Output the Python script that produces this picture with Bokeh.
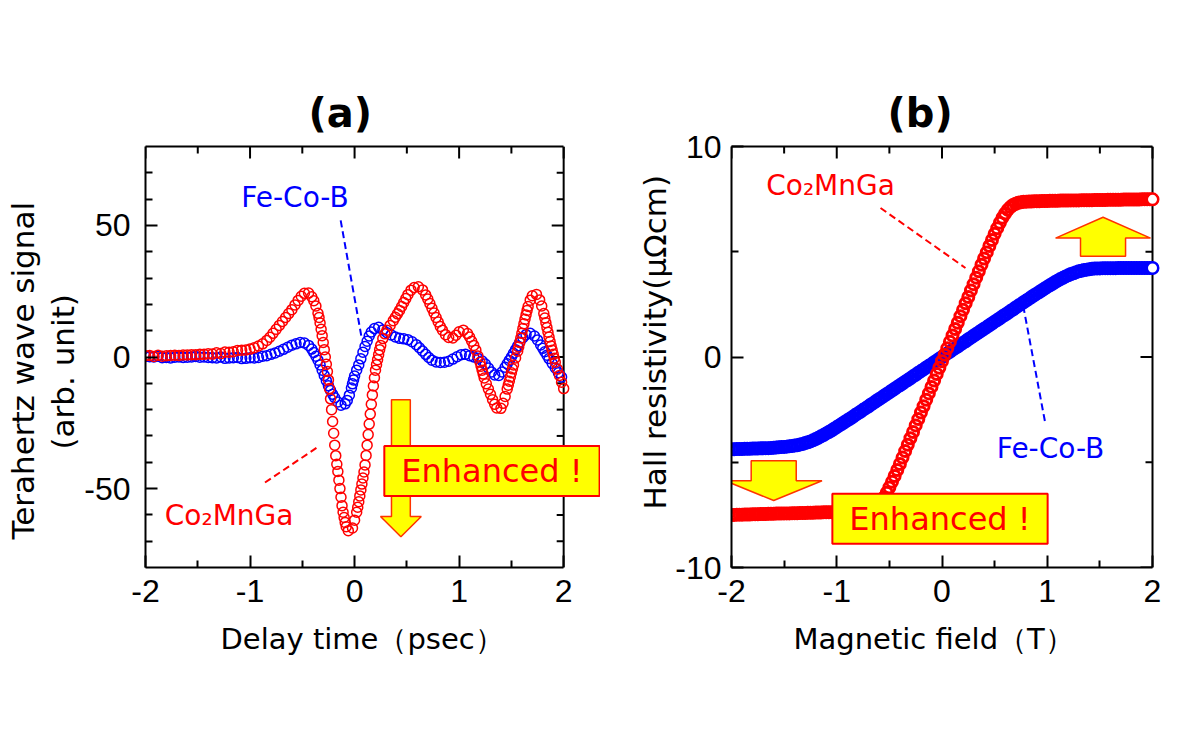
import math
import numpy as np

from bokeh.plotting import figure
from bokeh.layouts import row
from bokeh.models import Range1d, LinearAxis, FixedTicker, Label, Title
from bokeh.embed import file_html
from bokeh.resources import INLINE

# ---------------------------------------------------------------------------
# (a) Terahertz emission waveforms, sampled every 0.01 ps from -2 to 2 ps
# ---------------------------------------------------------------------------
delay_ps = np.round(np.linspace(-2.0, 2.0, 401), 3)

thz_co2mnga = [
    0.5, 0.4, 0.3, 0.5, 0.6, 0.5, 0.4, 0.3, 0.2, 0.4, 0.5, 0.6, 0.7, 0.5, 0.4, 0.3, 0.3, 0.5, 0.6, 0.5,
    0.5, 0.7, 0.8, 0.7, 0.6, 0.5, 0.4, 0.6, 0.7, 0.8, 0.9, 0.7, 0.6, 0.5, 0.5, 0.7, 0.8, 0.9, 1.0, 0.9,
    0.8, 0.7, 0.6, 0.8, 0.9, 1.0, 1.1, 1.0, 0.9, 0.8, 0.7, 0.9, 1.0, 1.1, 1.2, 1.1, 1.0, 0.9, 0.9, 1.0,
    1.2, 1.3, 1.4, 1.2, 1.1, 1.2, 1.3, 1.5, 1.6, 1.5, 1.4, 1.3, 1.3, 1.5, 1.7, 1.8, 1.9, 1.8, 1.6, 1.7,
    1.8, 2.0, 2.1, 2.0, 2.0, 2.2, 2.3, 2.4, 2.5, 2.3, 2.2, 2.4, 2.6, 2.8, 2.9, 2.8, 2.7, 2.8, 3.0, 3.0,
    3.0, 3.1, 3.2, 3.3, 3.5, 3.6, 3.8, 4.0, 4.2, 4.4, 4.6, 4.8, 5.0, 5.3, 5.6, 5.9, 6.3, 6.7, 7.1, 7.5,
    8.0, 8.5, 9.0, 9.5, 10.0, 10.5, 11.0, 11.5, 12.0, 12.5, 13.0, 13.5, 14.0, 14.5, 15.0, 15.5, 16.0, 16.5, 17.0, 17.5,
    18.0, 18.6, 19.2, 19.8, 20.4, 21.0, 21.5, 22.1, 22.6, 23.1, 23.5, 23.9, 24.2, 24.5, 24.6, 24.5, 24.3, 24.0, 23.5, 22.9,
    22.2, 21.4, 20.5, 19.4, 18.0, 16.6, 15.0, 12.9, 10.5, 8.1, 5.5, 2.8, 0.0, -2.8, -5.5, -8.7, -12.0, -15.9, -20.0, -24.5,
    -29.0, -33.5, -37.5, -40.8, -43.5, -46.8, -50.0, -53.3, -56.5, -59.0, -61.0, -62.9, -64.5, -65.4, -66.0, -66.4, -66.5, -66.0, -65.0, -63.6,
    -62.0, -60.6, -59.0, -57.1, -55.0, -52.8, -50.5, -48.3, -46.0, -43.7, -41.0, -37.4, -33.5, -29.5, -25.5, -21.7, -18.0, -14.4, -11.0, -7.9,
    -5.0, -2.9, -1.0, 0.9, 2.8, 4.4, 5.8, 7.0, 8.0, 8.8, 9.6, 10.2, 10.8, 11.4, 12.0, 12.6, 13.2, 13.8, 14.5, 15.1,
    15.8, 16.4, 17.0, 17.7, 18.5, 19.2, 20.0, 20.7, 21.5, 22.2, 23.0, 23.7, 24.3, 24.9, 25.4, 25.8, 26.1, 26.4, 26.6, 26.7,
    26.8, 26.7, 26.5, 26.2, 25.9, 25.5, 25.0, 24.3, 23.6, 22.8, 22.0, 21.2, 20.3, 19.4, 18.5, 17.6, 16.7, 15.8, 15.0, 14.1,
    13.3, 12.4, 11.6, 10.9, 10.2, 9.6, 9.0, 8.5, 8.1, 7.7, 7.4, 7.2, 7.0, 7.1, 7.2, 7.5, 7.9, 8.3, 8.8, 9.2,
    9.6, 9.9, 10.1, 10.2, 10.2, 10.0, 9.8, 9.4, 8.9, 8.3, 7.6, 6.8, 6.0, 5.2, 4.4, 3.5, 2.6, 1.5, 0.4, -0.8,
    -2.0, -3.5, -5.0, -6.5, -8.0, -9.1, -10.2, -11.2, -12.2, -13.2, -14.2, -15.2, -16.2, -17.1, -18.0, -18.8, -19.4, -19.9, -20.2, -20.0,
    -19.5, -18.6, -17.6, -16.4, -15.0, -13.6, -12.2, -10.7, -9.2, -7.6, -6.0, -4.5, -3.0, -1.7, -0.4, 0.9, 2.2, 3.8, 5.5, 7.2,
    9.0, 10.8, 12.6, 14.3, 16.0, 17.7, 19.2, 20.5, 21.6, 22.5, 23.3, 23.8, 24.1, 24.1, 23.8, 23.3, 22.6, 21.7, 20.6, 19.4,
    18.0, 16.5, 14.8, 13.0, 11.2, 9.4, 7.6, 5.9, 4.2, 2.6, 1.0, -0.5, -2.0, -3.3, -4.6, -5.8, -7.0, -8.3, -9.6, -10.8,
    -12.0,
]

thz_fecob = [
    0.2, 0.0, -0.3, -0.1, 0.1, -0.2, -0.4, -0.2, 0.0, 0.1, -0.2, -0.3, 0.3, 0.1, -0.1, -0.3, -0.3, -0.1, 0.1, 0.0,
    -0.2, -0.1, 0.0, -0.2, -0.4, -0.1, 0.2, 0.0, -0.1, -0.2, -0.3, -0.1, 0.0, 0.1, 0.2, 0.0, -0.2, -0.1, 0.1, 0.0,
    -0.1, 0.1, 0.3, 0.1, 0.0, -0.1, -0.2, 0.0, 0.2, 0.1, 0.1, 0.0, -0.1, 0.1, 0.3, 0.1, 0.0, 0.1, 0.2, 0.0,
    -0.2, -0.1, 0.1, -0.1, -0.3, -0.2, -0.1, -0.3, -0.4, -0.3, -0.2, -0.1, 0.0, -0.2, -0.3, -0.4, -0.5, -0.3, -0.2, -0.3,
    -0.4, -0.5, -0.6, -0.4, -0.3, -0.4, -0.5, -0.3, -0.2, -0.3, -0.4, -0.5, -0.6, -0.4, -0.3, -0.4, -0.5, -0.3, -0.2, -0.2,
    -0.3, -0.2, -0.1, -0.3, -0.4, -0.2, 0.0, -0.1, -0.2, 0.0, 0.1, 0.2, 0.3, 0.2, 0.2, 0.3, 0.5, 0.6, 0.7, 0.8,
    1.0, 1.2, 1.3, 1.4, 1.5, 1.7, 1.9, 2.0, 2.2, 2.3, 2.5, 2.7, 2.9, 3.1, 3.3, 3.5, 3.7, 3.9, 4.1, 4.3,
    4.5, 4.7, 4.8, 4.9, 5.0, 5.2, 5.3, 5.4, 5.5, 5.5, 5.5, 5.4, 5.3, 5.2, 5.0, 4.7, 4.4, 4.0, 3.6, 3.0,
    2.4, 1.7, 1.0, 0.3, -0.5, -1.2, -2.0, -3.0, -4.0, -5.0, -6.0, -7.0, -8.0, -9.0, -10.0, -10.9, -11.8, -12.7, -13.5, -14.2,
    -14.9, -15.5, -16.0, -16.6, -17.1, -17.6, -18.0, -18.3, -18.5, -18.4, -18.2, -17.8, -17.2, -16.5, -15.6, -14.5, -13.3, -11.8, -10.2, -8.7,
    -7.2, -6.1, -5.0, -4.0, -3.0, -1.9, -0.7, 0.6, 1.8, 2.9, 4.0, 5.0, 6.0, 7.0, 8.0, 8.8, 9.5, 10.0, 10.5, 10.8,
    11.1, 11.3, 11.4, 11.3, 11.2, 10.9, 10.6, 10.3, 10.0, 9.7, 9.5, 9.2, 9.0, 8.8, 8.6, 8.4, 8.2, 8.0, 7.8, 7.6,
    7.5, 7.3, 7.2, 7.1, 7.1, 7.0, 7.0, 6.9, 6.9, 6.8, 6.7, 6.6, 6.4, 6.2, 6.0, 5.8, 5.5, 5.3, 5.0, 4.7,
    4.3, 3.9, 3.5, 3.1, 2.7, 2.3, 1.9, 1.4, 1.0, 0.6, 0.2, -0.2, -0.6, -0.9, -1.2, -1.4, -1.6, -1.8, -1.9, -2.0,
    -2.0, -2.1, -2.1, -2.0, -2.0, -2.0, -2.0, -1.9, -1.9, -1.8, -1.6, -1.4, -1.2, -1.0, -0.8, -0.6, -0.4, -0.2, 0.1, 0.3,
    0.5, 0.7, 0.9, 1.0, 1.1, 1.1, 1.0, 0.9, 0.8, 0.7, 0.5, 0.4, 0.2, 0.1, 0.0, -0.1, -0.2, -0.3, -0.5, -0.7,
    -0.9, -1.2, -1.5, -1.9, -2.3, -2.7, -3.2, -3.7, -4.2, -4.7, -5.2, -5.7, -6.1, -6.5, -6.8, -7.0, -7.1, -7.1, -7.0, -6.7,
    -6.2, -5.7, -5.1, -4.5, -3.9, -3.3, -2.6, -2.0, -1.3, -0.7, 0.0, 0.7, 1.4, 2.1, 2.8, 3.5, 4.2, 4.9, 5.6, 6.2,
    6.8, 7.3, 7.8, 8.2, 8.5, 8.7, 8.9, 9.0, 9.0, 8.9, 8.7, 8.4, 8.0, 7.5, 7.0, 6.5, 5.9, 5.3, 4.6, 4.0,
    3.3, 2.7, 2.0, 1.4, 0.7, 0.1, -0.6, -1.2, -1.8, -2.4, -3.0, -3.6, -4.2, -4.8, -5.4, -6.0, -6.6, -7.1, -7.6, -8.1,
    -8.5,
]

# ---------------------------------------------------------------------------
# (b) Anomalous Hall resistivity, sampled every 0.025 T from -2 to 2 T
# ---------------------------------------------------------------------------
field_T = np.round(np.linspace(-2.0, 2.0, 161), 3)

hall_co2mnga = [
    -7.50, -7.50, -7.49, -7.49, -7.49, -7.48, -7.48, -7.48, -7.47, -7.47,
    -7.47, -7.46, -7.46, -7.46, -7.45, -7.45, -7.45, -7.44, -7.44, -7.44,
    -7.43, -7.43, -7.43, -7.42, -7.42, -7.42, -7.41, -7.41, -7.41, -7.40,
    -7.40, -7.40, -7.39, -7.39, -7.39, -7.38, -7.38, -7.38, -7.37, -7.37,
    -7.37, -7.36, -7.36, -7.36, -7.35, -7.35, -7.35, -7.35, -7.34, -7.34,
    -7.34, -7.32, -7.30, -7.26, -7.21, -7.13, -7.01, -6.86, -6.67, -6.45,
    -6.20, -5.93, -5.65, -5.37, -5.08, -4.78, -4.47, -4.17, -3.86, -3.56,
    -3.25, -2.95, -2.64, -2.34, -2.03, -1.73, -1.42, -1.12, -0.81, -0.51,
    -0.20, 0.11, 0.41, 0.72, 1.02, 1.33, 1.63, 1.94, 2.24, 2.55,
    2.85, 3.16, 3.46, 3.77, 4.07, 4.38, 4.68, 4.97, 5.27, 5.56,
    5.85, 6.12, 6.38, 6.62, 6.82, 6.99, 7.12, 7.22, 7.28, 7.33,
    7.35, 7.37, 7.38, 7.39, 7.39, 7.40, 7.40, 7.40, 7.41, 7.41,
    7.41, 7.42, 7.42, 7.42, 7.42, 7.43, 7.43, 7.43, 7.43, 7.44,
    7.44, 7.44, 7.44, 7.45, 7.45, 7.45, 7.45, 7.45, 7.46, 7.46,
    7.46, 7.46, 7.46, 7.47, 7.47, 7.47, 7.47, 7.47, 7.47, 7.48,
    7.48, 7.48, 7.48, 7.48, 7.48, 7.48, 7.49, 7.49, 7.49, 7.49,
    7.49,
]

hall_fecob = [
    -4.38, -4.38, -4.37, -4.37, -4.37, -4.36, -4.36, -4.36, -4.35, -4.35,
    -4.35, -4.34, -4.34, -4.33, -4.33, -4.32, -4.31, -4.30, -4.29, -4.28,
    -4.27, -4.26, -4.24, -4.23, -4.21, -4.19, -4.16, -4.13, -4.09, -4.05,
    -4.01, -3.96, -3.90, -3.84, -3.77, -3.71, -3.63, -3.56, -3.49, -3.41,
    -3.33, -3.25, -3.17, -3.09, -3.01, -2.93, -2.85, -2.76, -2.68, -2.60,
    -2.51, -2.43, -2.35, -2.26, -2.18, -2.09, -2.01, -1.93, -1.84, -1.76,
    -1.68, -1.59, -1.51, -1.42, -1.34, -1.26, -1.17, -1.09, -1.01, -0.92,
    -0.84, -0.75, -0.67, -0.59, -0.50, -0.42, -0.34, -0.25, -0.17, -0.08,
    0.00, 0.08, 0.17, 0.25, 0.34, 0.42, 0.50, 0.59, 0.67, 0.75,
    0.84, 0.92, 1.01, 1.09, 1.17, 1.26, 1.34, 1.42, 1.51, 1.59,
    1.68, 1.76, 1.84, 1.93, 2.01, 2.09, 2.18, 2.26, 2.35, 2.43,
    2.51, 2.60, 2.68, 2.76, 2.85, 2.93, 3.01, 3.09, 3.17, 3.25,
    3.33, 3.41, 3.48, 3.56, 3.63, 3.70, 3.76, 3.83, 3.88, 3.94,
    3.98, 4.03, 4.07, 4.10, 4.13, 4.15, 4.17, 4.19, 4.20, 4.21,
    4.21, 4.22, 4.22, 4.22, 4.22, 4.22, 4.22, 4.23, 4.23, 4.23,
    4.23, 4.23, 4.23, 4.23, 4.23, 4.23, 4.23, 4.23, 4.23, 4.23,
    4.23,
]

# Axis ticks
x_major = [-2, -1, 0, 1, 2]
x_minor = [-1.5, -0.5, 0.5, 1.5]
thz_major = [-50, 0, 50]
thz_minor = [-70, -60, -40, -30, -20, -10, 10, 20, 30, 40, 60, 70]
hall_major = [-10, 0, 10]
hall_minor = [-5, 5]

RED = "#FF0000"
BLUE = "#0000FF"
YELLOW = "#FFFF00"
ARROW_EDGE = "#FF3300"
TICK_FONT = "Liberation Sans"
TEXT_FONT = "DejaVu Sans"

FIG_W, FIG_H = 600, 735
BOTTOM = 168          # space under the plot box for ticks and axis title
MAJOR_LEN, MINOR_LEN = 12, 7


def style_axis(ax, major, minor, standoff):
    ax.ticker = FixedTicker(ticks=major, minor_ticks=minor)
    ax.axis_line_color = "black"
    ax.axis_line_width = 2
    ax.major_tick_in = MAJOR_LEN
    ax.major_tick_out = 0
    ax.minor_tick_in = MINOR_LEN
    ax.minor_tick_out = 0
    ax.major_tick_line_color = "black"
    ax.minor_tick_line_color = "black"
    ax.major_tick_line_width = 2
    ax.minor_tick_line_width = 2
    ax.major_label_text_font = TICK_FONT
    ax.major_label_text_font_size = "32px"
    ax.major_label_text_color = "black"
    ax.major_label_standoff = standoff
    ax.major_label_overrides = {v: str(v) for v in major}


def side_title(p, text, side, size, offset, standoff):
    # left-aligned, placed by its pixel offset from the start of the frame
    p.add_layout(Title(text=text, align="left", offset=offset,
                       standoff=standoff, text_font=TEXT_FONT,
                       text_font_size=size, text_font_style="normal",
                       text_color="black"), side)


def make_panel(x_lo, x_hi, y_lo, y_hi, ymajor, yminor, left, top, box_w,
               ystandoff, title, title_offset):
    """Plot box spans [x_lo, x_hi] x [y_lo, y_hi]; the frame is widened to the
    right edge of the figure so that call-outs may run past the box."""
    frame_w = FIG_W - left
    frame_h = FIG_H - top - BOTTOM
    x_per_px = (x_hi - x_lo) / box_w
    y_per_px = (y_hi - y_lo) / frame_h
    x_end = x_lo + frame_w * x_per_px

    p = figure(width=FIG_W, height=FIG_H,
               x_range=Range1d(x_lo, x_end), y_range=Range1d(y_lo, y_hi),
               output_backend="svg", toolbar_location=None,
               min_border_left=left, min_border_right=0,
               min_border_top=top, min_border_bottom=BOTTOM)
    p.background_fill_color = "white"
    p.border_fill_color = "white"
    p.outline_line_color = None
    p.xgrid.visible = False
    p.ygrid.visible = False

    style_axis(p.xaxis[0], x_major, x_minor, standoff=12)
    p.xaxis[0].bounds = (x_lo, x_hi)
    style_axis(p.yaxis[0], ymajor, yminor, standoff=ystandoff)

    # top edge of the box
    top_ax = LinearAxis(ticker=FixedTicker(ticks=[]), bounds=(x_lo, x_hi),
                        axis_line_width=2, axis_line_color="black")
    p.add_layout(top_ax, "above")

    # right edge of the box, and inward ticks on the top and right edges
    p.segment(x0=[x_hi], y0=[y_lo], x1=[x_hi], y1=[y_hi],
              line_color="black", line_width=2)
    tx = x_major + x_minor
    tl = [MAJOR_LEN] * len(x_major) + [MINOR_LEN] * len(x_minor)
    p.segment(x0=tx, y0=[y_hi] * len(tx), x1=tx,
              y1=[y_hi - n * y_per_px for n in tl],
              line_color="black", line_width=2)
    ty = ymajor + yminor
    tl = [MAJOR_LEN] * len(ymajor) + [MINOR_LEN] * len(yminor)
    p.segment(x0=[x_hi] * len(ty), y0=ty,
              x1=[x_hi - n * x_per_px for n in tl], y1=ty,
              line_color="black", line_width=2)

    p.title.text = title
    p.title.text_font = TEXT_FONT
    p.title.text_font_size = "40px"
    p.title.text_font_style = "bold"
    p.title.text_color = "black"
    p.title.align = "left"
    p.title.offset = title_offset
    p.title.standoff = 21
    return p, x_per_px, y_per_px


def spaced(xs, ys, x_per_px, y_per_px, gap_px):
    """Keep samples that lie at least gap_px apart along the drawn trace."""
    kx, ky = [xs[0]], [ys[0]]
    for x, y in zip(xs[1:], ys[1:]):
        d = math.hypot((x - kx[-1]) / x_per_px, (y - ky[-1]) / y_per_px)
        if d >= gap_px:
            kx.append(x)
            ky.append(y)
    return kx, ky


def block_arrow(cx, shaft_half, head_half, y_tail, y_neck, y_tip):
    xs = [cx - shaft_half, cx + shaft_half, cx + shaft_half, cx + head_half,
          cx, cx - head_half, cx - shaft_half]
    ys = [y_tail, y_tail, y_neck, y_neck, y_tip, y_neck, y_neck]
    return xs, ys


def text_label(p, x, y, text, color, size="28px"):
    p.add_layout(Label(x=x, y=y, text=text, text_color=color,
                       text_font=TEXT_FONT, text_font_size=size,
                       text_align="center", text_baseline="middle"))


def enhanced_box(p, x, y):
    p.add_layout(Label(x=x, y=y, text="Enhanced !", text_color=RED,
                       text_font=TEXT_FONT, text_font_size="32px",
                       text_align="center", text_baseline="middle",
                       background_fill_color=YELLOW,
                       border_line_color=RED, border_line_width=2,
                       padding=(17, 6)))


# ---------------------------- panel (a) ------------------------------------
pa, ax_px, ay_px = make_panel(-2, 2, -80, 80, thz_major, thz_minor,
                              left=143, top=146, box_w=420, ystandoff=15,
                              title="(a)", title_offset=163)
side_title(pa, "Delay time（psec）", "below", "29px", offset=75, standoff=30)
side_title(pa, "(arb. unit)", "left", "31px", offset=118, standoff=1)
side_title(pa, "Terahertz wave signal", "left", "31px", offset=28, standoff=4)

bx, by = spaced(delay_ps, thz_fecob, ax_px, ay_px, 4)
rx, ry = spaced(delay_ps, thz_co2mnga, ax_px, ay_px, 4)
pa.scatter(bx, by, marker="circle", size=10, fill_color=None,
           line_color=BLUE, line_width=1.5)
pa.scatter(rx, ry, marker="circle", size=10, fill_color=None,
           line_color=RED, line_width=1.5)

arx, ary = block_arrow(0.443, 0.09, 0.195, -16.2, -60.6, -68.3)
pa.patch(arx, ary, fill_color=YELLOW, line_color=ARROW_EDGE, line_width=1.5)

pa.segment(x0=[-0.133], y0=[51.9], x1=[0.067], y1=[7.4],
           line_color=BLUE, line_width=2, line_dash="7 4")
pa.segment(x0=[-0.857], y0=[-47.7], x1=[-0.333], y1=[-33.7],
           line_color=RED, line_width=2, line_dash="7 4")

text_label(pa, -0.571, 60.6, "Fe-Co-B", BLUE)
text_label(pa, -1.2, -60.3, "Co₂MnGa", RED)
enhanced_box(pa, 1.314, -43.3)

# ---------------------------- panel (b) ------------------------------------
pb, bx_px, by_px = make_panel(-2, 2, -10, 10, hall_major, hall_minor,
                              left=131, top=145, box_w=421, ystandoff=10,
                              title="(b)", title_offset=156)
side_title(pb, "Magnetic field（T）", "below", "29px", offset=62, standoff=30)
side_title(pb, "Hall resistivity(μΩcm)", "left", "31px", offset=58, standoff=0)

pb.scatter(field_T, hall_fecob, marker="circle", size=11, fill_color=None,
           line_color=BLUE, line_width=3)
pb.scatter(field_T, hall_co2mnga, marker="circle", size=11, fill_color=None,
           line_color=RED, line_width=3)
# open end markers at the highest field
pb.scatter([field_T[-1]], [hall_fecob[-1]], marker="circle", size=11,
           fill_color="white", line_color=BLUE, line_width=2)
pb.scatter([field_T[-1]], [hall_co2mnga[-1]], marker="circle", size=11,
           fill_color="white", line_color=RED, line_width=2)

dx, dy = block_arrow(-1.599, 0.214, 0.459, -4.93, -5.88, -6.82)
pb.patch(dx, dy, fill_color=YELLOW, line_color=ARROW_EDGE, line_width=1.5)
ux, uy = block_arrow(1.530, 0.214, 0.451, 4.79, 5.65, 6.64)
pb.patch(ux, uy, fill_color=YELLOW, line_color=ARROW_EDGE, line_width=1.5)

pb.segment(x0=[-0.584], y0=[7.08], x1=[0.223], y1=[4.23],
           line_color=RED, line_width=2, line_dash="7 4")
pb.segment(x0=[0.772], y0=[2.42], x1=[0.983], y1=[-3.19],
           line_color=BLUE, line_width=2, line_dash="7 4")

text_label(pb, -1.059, 8.15, "Co₂MnGa", RED)
text_label(pb, 1.031, -4.36, "Fe-Co-B", BLUE)
enhanced_box(pb, -0.019, -7.68)

layout = row(pa, pb)
open("out.html", "w").write(file_html(layout, INLINE))
